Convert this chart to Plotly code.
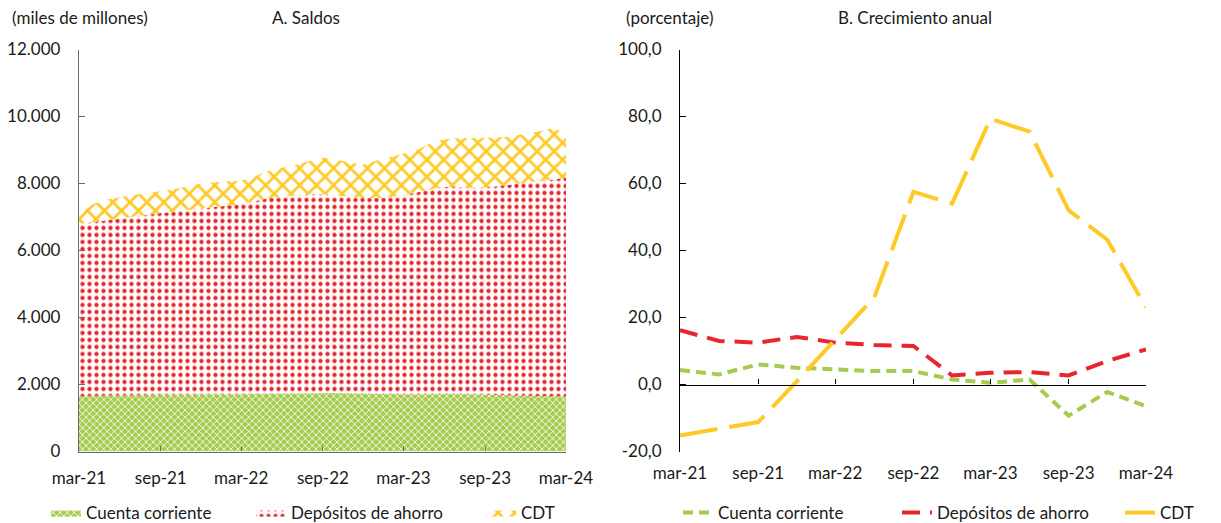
import pandas as pd
import plotly.graph_objects as go

# ---------------- data ----------------
months = pd.date_range("2021-03-01", periods=37, freq="MS")
quarters = pd.date_range("2021-03-01", periods=13, freq="3MS")

saldo_cuenta = [1660, 1670, 1680, 1690, 1690, 1700, 1700, 1700, 1710, 1710, 1710, 1700,
                1700, 1710, 1720, 1730, 1740, 1750, 1760, 1750, 1740, 1730, 1720, 1710,
                1700, 1700, 1710, 1720, 1720, 1710, 1700, 1690, 1680, 1670, 1660, 1650, 1640]
saldo_ahorro = [5140, 5180, 5210, 5260, 5320, 5360, 5420, 5460, 5490, 5540, 5580, 5640,
                5690, 5760, 5840, 5880, 5910, 5930, 5920, 5900, 5860, 5840, 5850, 5890,
                5950, 6030, 6110, 6180, 6170, 6160, 6180, 6230, 6280, 6350, 6410, 6460, 6530]
saldo_cdt = [280, 530, 630, 650, 650, 650, 640, 670, 720, 750, 750, 730,
             700, 750, 810, 860, 900, 990, 1090, 1070, 1020, 990, 1120, 1190,
             1230, 1270, 1380, 1420, 1460, 1490, 1480, 1450, 1450, 1460, 1490, 1550, 1330]

crec_cuenta = [4.3, 3.0, 6.0, 5.0, 4.5, 4.0, 4.0, 1.5, 0.5, 1.5, -9.3, -2.2, -6.5]
crec_ahorro = [16.2, 13.0, 12.5, 14.2, 12.5, 11.8, 11.5, 2.7, 3.5, 3.7, 2.7, 7.0, 10.5]
crec_cdt = [-15.2, -13.3, -11.2, 1.0, 13.5, 26.0, 57.5, 54.0, 79.3, 75.5, 52.0, 43.2, 23.0]

x_tickvals = pd.date_range("2021-03-01", periods=7, freq="6MS")
x_ticktext = ["mar-21", "sep-21", "mar-22", "sep-22", "mar-23", "sep-23", "mar-24"]
yA_tickvals = [0, 2000, 4000, 6000, 8000, 10000, 12000]
yA_ticktext = ["0", "2.000", "4.000", "6.000", "8.000", "10.000", "12.000"]
yB_tickvals = [-20, 0, 20, 40, 60, 80, 100]
yB_ticktext = ["-20,0", "0,0", "20,0", "40,0", "60,0", "80,0", "100,0"]

names = ["Cuenta corriente", "Depósitos de ahorro", "CDT"]

# ---------------- style ----------------
GREEN = "#A6CB4E"
RED = "#E8262B"
YELLOW = "#FFC926"
FONT = "Lato"
FS = 17
TXT = "#1a1a1a"
OFF = 8                      # default page margin of the html body
W, H = 1221 - OFF, 523 - OFF


def px_x(p):
    return (p - OFF) / W


def px_y(p):
    return 1 - (p - OFF) / H


fig = go.Figure()

patterns = [
    dict(shape="x", fgcolor="white", bgcolor=GREEN, size=5, solidity=0.3, fillmode="replace"),
    dict(shape=".", fgcolor=RED, bgcolor="white", size=7, solidity=0.3, fillmode="replace"),
    dict(shape="x", fgcolor=YELLOW, bgcolor="white", size=12, solidity=0.4, fillmode="replace"),
]
line_cols = [GREEN, RED, YELLOW]
for k, (name, vals, pat, lc) in enumerate(zip(names, [saldo_cuenta, saldo_ahorro, saldo_cdt],
                                               patterns, line_cols)):
    fig.add_trace(go.Scatter(
        x=months, y=vals, name=name, stackgroup="a", mode="lines",
        line=dict(width=0, color=lc),
        fillpattern=pat, xaxis="x", yaxis="y",
        legend="legend" if k == 0 else f"legend{k + 1}", hoverinfo="skip",
    ))

dashes = ["10px,6px", "18px,10px", "38px,12px"]
for k, (name, vals, col, d) in enumerate(zip(names, [crec_cuenta, crec_ahorro, crec_cdt],
                                             line_cols, dashes)):
    fig.add_trace(go.Scatter(
        x=quarters, y=vals, name=name, mode="lines",
        line=dict(color=col, width=4, dash=d),
        xaxis="x2", yaxis="y2", legend=f"legend{k + 4}",
    ))

# invisible trace carrying the zero-line axis of panel B
fig.add_trace(go.Scatter(x=quarters, y=crec_cdt, mode="lines", line=dict(width=0),
                         xaxis="x3", yaxis="y2", showlegend=False, hoverinfo="skip"))

ydom = [px_y(451.5), px_y(49.5)]
zero_pos = ydom[0] + (ydom[1] - ydom[0]) * (20 / 120)
tickfont = dict(family=FONT, size=FS, color=TXT)

# legend text start positions (pixels) -> legend box x = text start - 40
legend_text_x = [86, 291, 521, 718, 937, 1160]
legends = {}
for k, tx in enumerate(legend_text_x):
    key = "legend" if k == 0 else f"legend{k + 1}"
    legends[key] = dict(orientation="h", x=px_x(tx - 40), y=px_y(513),
                        xanchor="left", yanchor="middle",
                        font=dict(family=FONT, size=FS, color=TXT),
                        itemwidth=30, bgcolor="rgba(0,0,0,0)", borderwidth=0)

fig.update_layout(
    width=W, height=H,
    margin=dict(l=0, r=0, t=0, b=0, autoexpand=False),
    paper_bgcolor="white", plot_bgcolor="white",
    font=dict(family=FONT, size=FS, color=TXT),
    showlegend=True,
    xaxis=dict(domain=[px_x(79), px_x(566)], anchor="y",
               range=[months[0], months[-1]],
               tickvals=x_tickvals, ticktext=x_ticktext, tickfont=tickfont,
               showline=True, linecolor="#6b6b6b", linewidth=1.3,
               ticks="inside", ticklen=5, tickcolor="#6b6b6b",
               showgrid=False, zeroline=False, ticklabelstandoff=11),
    yaxis=dict(domain=ydom, anchor="x", range=[0, 12000],
               tickvals=yA_tickvals, ticktext=yA_ticktext, tickfont=tickfont,
               showline=True, linecolor="#6b6b6b", linewidth=1.3,
               ticks="inside", ticklen=6, tickcolor="#6b6b6b",
               showgrid=False, zeroline=False, ticklabelstandoff=14),
    xaxis2=dict(domain=[px_x(680), px_x(1146)], anchor="y2",
                range=[quarters[0], quarters[-1]],
                tickvals=x_tickvals, ticktext=x_ticktext, tickfont=tickfont,
                showline=False, ticks="", showgrid=False, zeroline=False,
                ticklabelstandoff=9),
    xaxis3=dict(overlaying="x2", matches="x2", anchor="free", position=zero_pos,
                domain=[px_x(680), px_x(1146)],
                range=[quarters[0], quarters[-1]],
                tickvals=x_tickvals, showticklabels=False,
                showline=True, linecolor="black", linewidth=1.2,
                ticks="inside", ticklen=5, tickcolor="black",
                showgrid=False, zeroline=False),
    yaxis2=dict(domain=ydom, anchor="x2", range=[-20, 100],
                tickvals=yB_tickvals, ticktext=yB_ticktext, tickfont=tickfont,
                showline=True, linecolor="black", linewidth=1.2,
                ticks="inside", ticklen=6, tickcolor="black",
                showgrid=False, zeroline=False, ticklabelstandoff=14),
    annotations=[
        dict(text="(miles de millones)", x=px_x(10), y=px_y(18), xref="paper", yref="paper",
             xanchor="left", yanchor="middle", showarrow=False, font=dict(size=FS)),
        dict(text="A. Saldos", x=px_x(270), y=px_y(18), xref="paper", yref="paper",
             xanchor="left", yanchor="middle", showarrow=False, font=dict(size=FS)),
        dict(text="(porcentaje)", x=px_x(624), y=px_y(18), xref="paper", yref="paper",
             xanchor="left", yanchor="middle", showarrow=False, font=dict(size=FS)),
        dict(text="B. Crecimiento anual", x=px_x(836), y=px_y(18), xref="paper", yref="paper",
             xanchor="left", yanchor="middle", showarrow=False, font=dict(size=FS)),
    ],
    **legends,
)

fig.write_html("out.html")
